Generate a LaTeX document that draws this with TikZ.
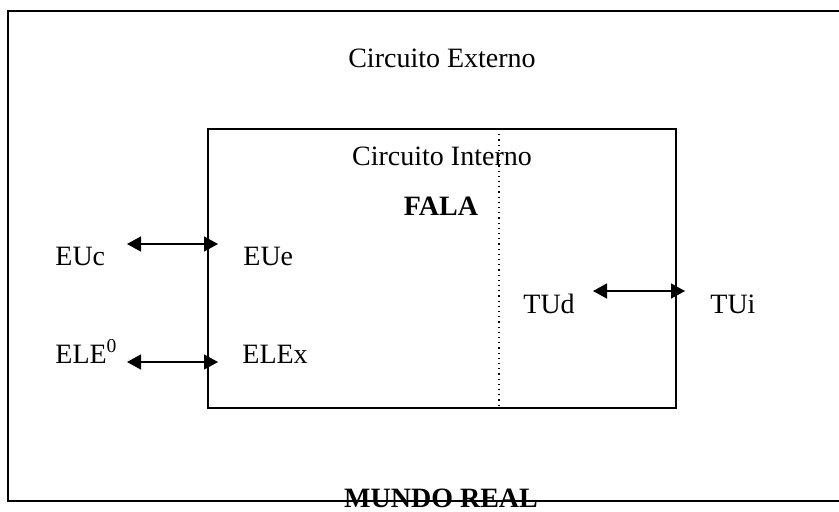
\documentclass[tikz,border=0pt]{standalone}
\usepackage{fontspec}
\setmainfont{Liberation Serif}
\usetikzlibrary{arrows.meta}

\begin{document}
\begin{tikzpicture}[
    x=0.5pt, y=-0.5pt,
    box/.style={draw=black, line width=0.9pt},
    label/.style={inner sep=0pt, anchor=base west},
    title/.style={inner sep=0pt, anchor=base},
    link/.style={<->, line width=0.7pt},
    >={Triangle[length=7pt, width=7.5pt]},
    font=\fontsize{14}{16}\selectfont
]
    \useasboundingbox (0,0) rectangle (839,511);

    % caixas (circuito externo e interno)
    \begin{scope}
        \clip (0,0) rectangle (839,511);
        \draw[box] (8,11) rectangle (850,501);
    \end{scope}
    \draw[box] (208,129) rectangle (676,408);
    \draw[dotted, line width=0.6pt] (499,129) -- (499,408);

    % titulos
    \node[title] (ext) at (442,67) {Circuito Externo};
    \node[title] (int) at (442,165) {Circuito Interno};
    \node[title] (fala) at (441,215) {\bfseries FALA};
    \node[title] (mundo) at (441,507) {\bfseries MUNDO REAL};

    % rotulos
    \node[label] (EUc) at (55,265) {EUc};
    \node[label] (EUe) at (243,265) {EUe};
    \node[label] (ELE) at (55,363) {ELE\textsuperscript{0}};
    \node[label] (ELEx) at (242,363) {ELEx};
    \node[label] (TUd) at (523,313) {TUd};
    \node[label] (TUi) at (710,313) {TUi};

    % pontas das setas
    \coordinate (a1) at (127,244);
    \coordinate (b1) at (218,244);
    \coordinate (a2) at (127,362);
    \coordinate (b2) at (218,362);
    \coordinate (a3) at (593,291);
    \coordinate (b3) at (685,291);

    % setas bidirecionais
    \draw[link] (a1) -- (b1);
    \draw[link] (a2) -- (b2);
    \draw[link] (a3) -- (b3);
\end{tikzpicture}
\end{document}
